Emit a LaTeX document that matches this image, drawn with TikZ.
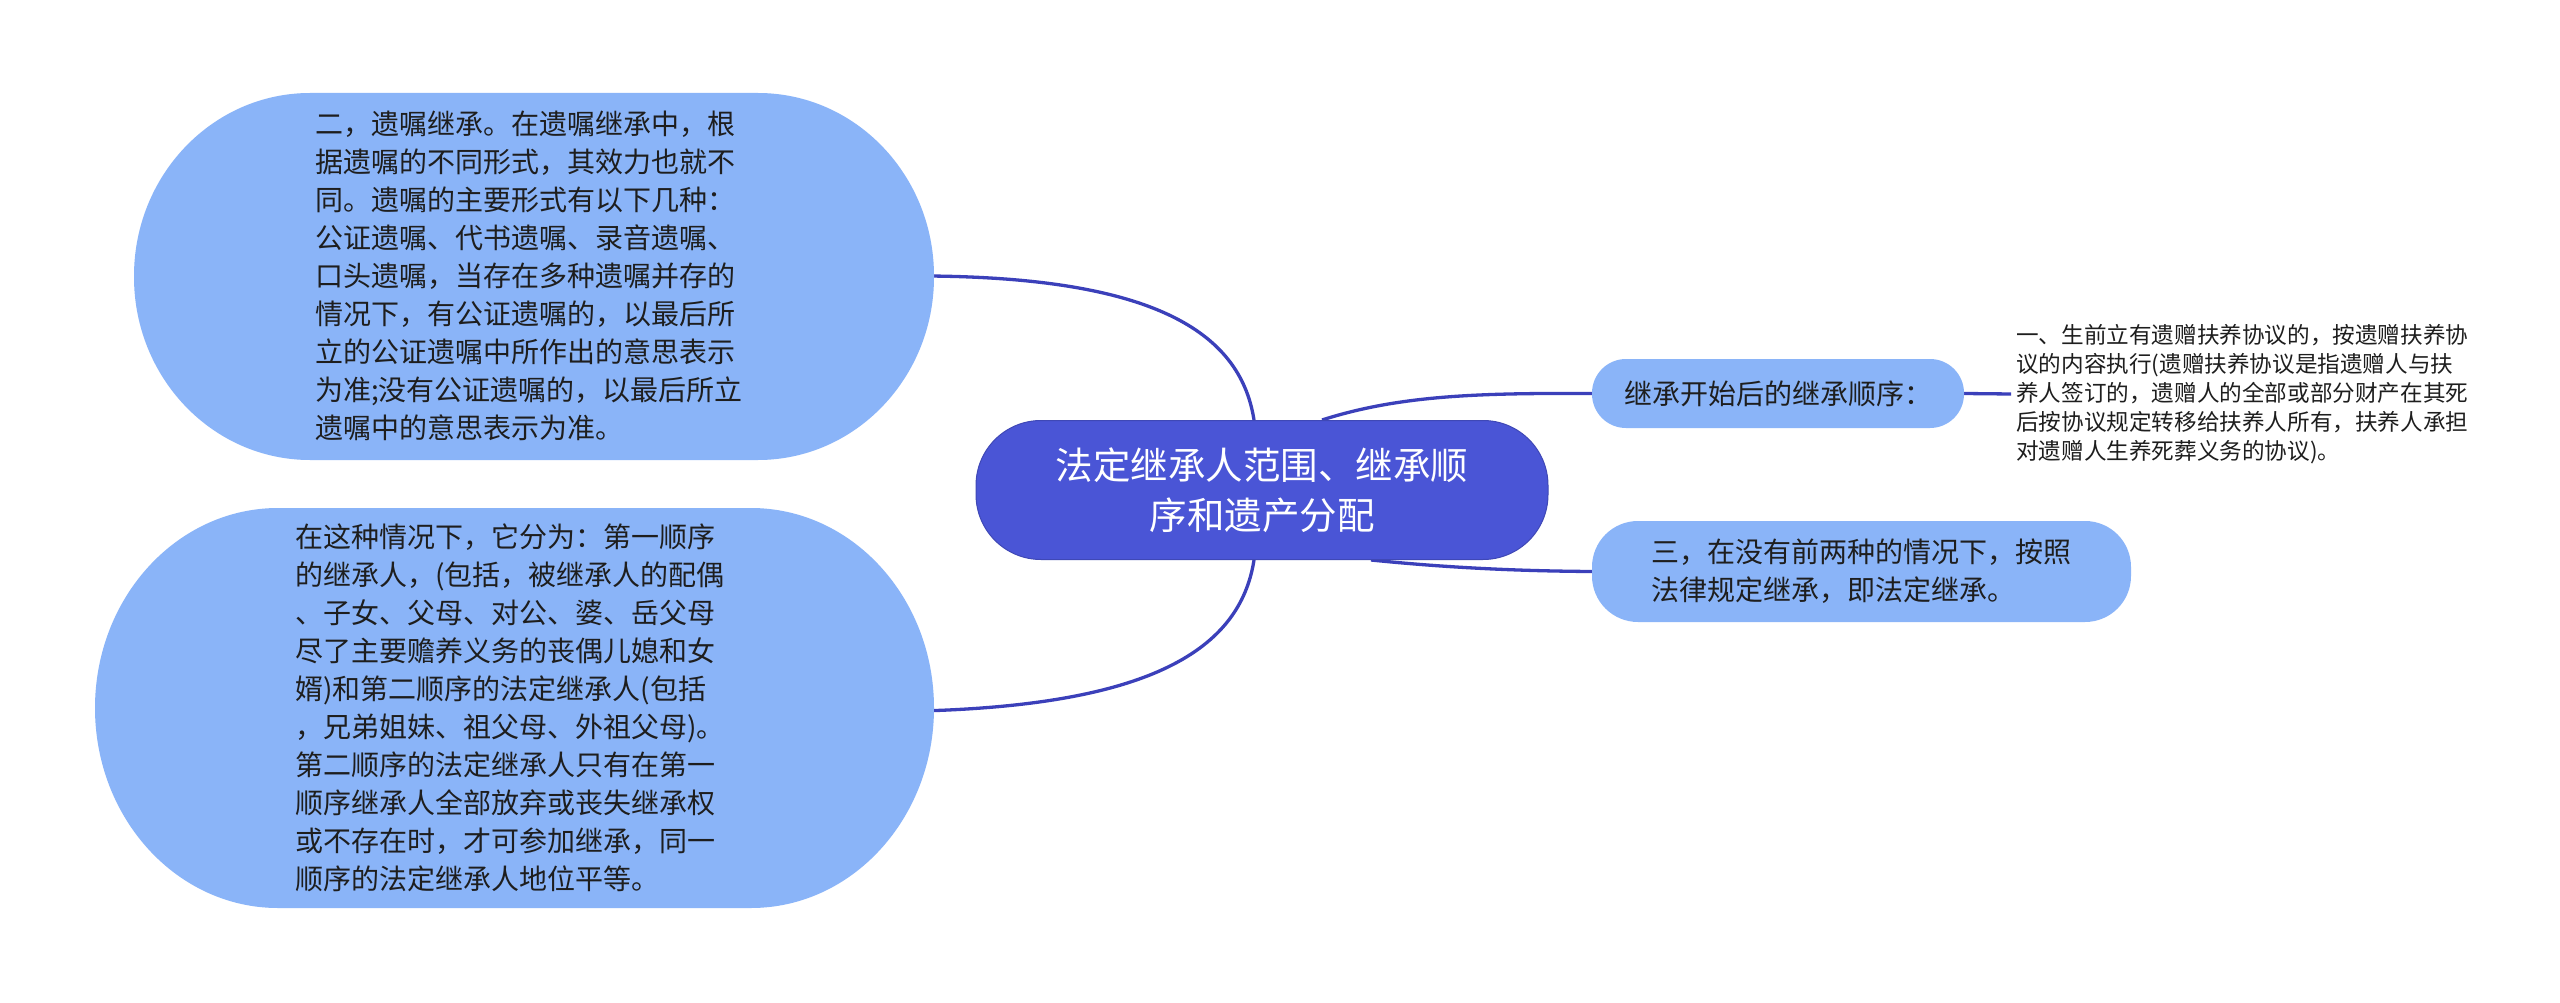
\documentclass[tikz,border=0pt]{standalone}
\usepackage{fontspec}
\newfontfamily\cjk{Noto Sans CJK SC}
\definecolor{lightbub}{HTML}{8AB4F8}
\definecolor{centerblue}{HTML}{4A55D6}
\definecolor{linkblue}{HTML}{3B40BA}
\definecolor{txt}{HTML}{1E1E1E}
\pgfdeclarelayer{paper}
\pgfdeclarelayer{conn}
\pgfdeclarelayer{bg}
\pgfsetlayers{paper,conn,bg,main}
% #1 style, #2 x1, #3 y1, #4 x2, #5 y2, #6 rx, #7 ry
\newcommand\ellrect[7]{%
  \path[#1] (#2+#6,#3) -- (#4-#6,#3)
    .. controls (#4-0.4477*#6,#3) and (#4,#3+0.4477*#7) .. (#4,#3+#7)
    -- (#4,#5-#7)
    .. controls (#4,#5-0.4477*#7) and (#4-0.4477*#6,#5) .. (#4-#6,#5)
    -- (#2+#6,#5)
    .. controls (#2+0.4477*#6,#5) and (#2,#5-0.4477*#7) .. (#2,#5-#7)
    -- (#2,#3+#7)
    .. controls (#2,#3+0.4477*#7) and (#2+0.4477*#6,#3) .. (#2+#6,#3) -- cycle;}
\begin{document}
\begin{tikzpicture}[x=1pt,y=-1pt,
  bigtext/.style={font=\cjk\fontsize{28}{38}\selectfont, text=txt, align=left, inner sep=0pt},
  leaftext/.style={font=\cjk\fontsize{22.6}{29}\selectfont, text=txt, align=left, inner sep=5pt, anchor=west},
  pill/.style={fill=lightbub, font=\cjk\fontsize{28}{38}\selectfont, text=txt, align=left, inner sep=0pt},
  centerbox/.style={fill=centerblue, draw=centerblue!85!black, line width=1pt, font=\cjk\fontsize{37.5}{50}\selectfont, text=white, align=center, inner sep=0pt, rounded corners=65pt},
  link/.style={draw=linkblue, line width=3.3pt}]
\useasboundingbox (0,0) rectangle (2560,1003);
\begin{pgfonlayer}{paper}
\fill[white] (0,0) rectangle (2560,1003);
\end{pgfonlayer}

% bubbles (fills)
\begin{pgfonlayer}{bg}
\ellrect{fill=lightbub}{134}{93}{934}{460}{176}{183}
\ellrect{fill=lightbub}{95}{508}{934}{908}{183}{200}
\end{pgfonlayer}

% text of the left bubbles
\node[bigtext, minimum width=790pt, minimum height=367pt] (tl) at (529,276) {%
二，遗嘱继承。在遗嘱继承中，根\\
据遗嘱的不同形式，其效力也就不\\
同。遗嘱的主要形式有以下几种：\\
公证遗嘱、代书遗嘱、录音遗嘱、\\
口头遗嘱，当存在多种遗嘱并存的\\
情况下，有公证遗嘱的，以最后所\\
立的公证遗嘱中所作出的意思表示\\
为准;没有公证遗嘱的，以最后所立\\
遗嘱中的意思表示为准。};

\node[bigtext, minimum width=830pt, minimum height=400pt] (bl) at (510,708) {%
在这种情况下，它分为：第一顺序\\
的继承人，(包括，被继承人的配偶\\
、子女、父母、对公、婆、岳父母\\
尽了主要赡养义务的丧偶儿媳和女\\
婿)和第二顺序的法定继承人(包括\\
，兄弟姐妹、祖父母、外祖父母)。\\
第二顺序的法定继承人只有在第一\\
顺序继承人全部放弃或丧失继承权\\
或不存在时，才可参加继承，同一\\
顺序的法定继承人地位平等。};

% center
\node[centerbox, minimum width=572pt, minimum height=139pt] (c) at (1262,490) {%
法定继承人范围、继承顺\\序和遗产分配};

% right nodes
\node[pill, minimum width=372pt, minimum height=69pt, rounded corners=34pt] (r1) at (1778,393.5) {继承开始后的继承顺序：};
\node[pill, minimum width=539pt, minimum height=101pt, rounded corners=46pt] (r2) at (1861.5,571.5) {%
三，在没有前两种的情况下，按照\\法律规定继承，即法定继承。};

\node[leaftext] (leaf) at (2011,394) {%
一、生前立有遗赠扶养协议的，按遗赠扶养协\\
议的内容执行(遗赠扶养协议是指遗赠人与扶\\
养人签订的，遗赠人的全部或部分财产在其死\\
后按协议规定转移给扶养人所有，扶养人承担\\
对遗赠人生养死葬义务的协议)。};

% connectors
\begin{pgfonlayer}{conn}
\draw[link] ([xshift=5pt]tl.east) .. controls (1150,278) and (1240,330) .. ([xshift=-8pt]c.north);
\draw[link] ([xshift=-5pt,yshift=-3pt]bl.east) .. controls (1150,705) and (1240,650) .. ([xshift=-8pt]c.south);
\draw[link] ([xshift=60pt]c.north) .. controls (1400,395) and (1480,393) .. (r1.west);
\draw[link] ([xshift=109pt]c.south) .. controls (1450,568) and (1520,571) .. (r2.west);
\draw[link] (r1.east) -- (leaf.west);
\end{pgfonlayer}
\end{tikzpicture}
\end{document}
